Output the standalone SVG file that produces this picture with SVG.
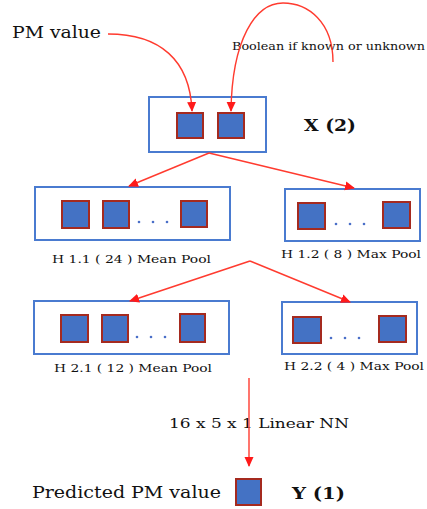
<svg xmlns="http://www.w3.org/2000/svg" width="427" height="509" viewBox="0 0 427 509">
<defs>
<marker id="ah" markerWidth="10" markerHeight="10" refX="9" refY="5" orient="auto" markerUnits="userSpaceOnUse">
<path d="M0,0.5 L10,5 L0,9.5 Z" fill="#ff1a1a"/>
</marker>
</defs>
<style>
.box{fill:#fff;stroke:#4a7bd0;stroke-width:2}
.sq{fill:#4472c4;stroke:#a52a1f;stroke-width:2}
.dot{fill:#4a6fc8}
.con{fill:none;stroke:#ff3b2f;stroke-width:1.4}
text{font-family:"DejaVu Serif","Liberation Serif",serif;fill:#111}
.lbl{font-size:11.5px}
.big{font-size:16px}
.bold{font-size:17px;font-weight:bold}
</style>
<rect width="427" height="509" fill="#fff"/>
<g id="pm-label"><text x="12" y="38" class="big" textLength="89" lengthAdjust="spacingAndGlyphs">PM value</text></g>
<g id="bool-label"><text x="232" y="50" class="lbl" font-size="11" textLength="193" lengthAdjust="spacingAndGlyphs">Boolean if known or unknown</text></g>
<g id="x-node">
<rect class="box" x="149" y="97" width="117" height="55"/>
<rect class="sq" x="177" y="113" width="26" height="25"/>
<rect class="sq" x="218" y="113" width="26" height="25"/>
<text x="304" y="131" class="bold" textLength="52" lengthAdjust="spacingAndGlyphs">X (2)</text>
</g>
<g id="h11">
<rect class="box" x="35" y="187" width="195" height="53"/>
<rect class="sq" x="62" y="201" width="27" height="27"/>
<rect class="sq" x="103" y="201" width="26" height="27"/>
<circle class="dot" cx="139" cy="222" r="1.3"/><circle class="dot" cx="153" cy="222" r="1.3"/><circle class="dot" cx="167" cy="222" r="1.3"/>
<rect class="sq" x="181" y="201" width="26" height="26"/>
<text x="52" y="263" class="lbl" textLength="159" lengthAdjust="spacingAndGlyphs">H 1.1 ( 24 ) Mean Pool</text>
</g>
<g id="h12">
<rect class="box" x="285" y="189" width="135" height="52"/>
<rect class="sq" x="298" y="203" width="27" height="26"/>
<circle class="dot" cx="336" cy="224" r="1.3"/><circle class="dot" cx="350" cy="224" r="1.3"/><circle class="dot" cx="364" cy="224" r="1.3"/>
<rect class="sq" x="383" y="202" width="27" height="26"/>
<text x="281" y="258" class="lbl" textLength="140" lengthAdjust="spacingAndGlyphs">H 1.2 ( 8 ) Max Pool</text>
</g>
<g id="h21">
<rect class="box" x="34" y="301" width="195" height="53"/>
<rect class="sq" x="61" y="315" width="27" height="27"/>
<rect class="sq" x="102" y="315" width="26" height="27"/>
<circle class="dot" cx="137" cy="337" r="1.3"/><circle class="dot" cx="151" cy="337" r="1.3"/><circle class="dot" cx="165" cy="337" r="1.3"/>
<rect class="sq" x="180" y="314" width="25" height="28"/>
<text x="54" y="372" class="lbl" textLength="158" lengthAdjust="spacingAndGlyphs">H 2.1 ( 12 ) Mean Pool</text>
</g>
<g id="h22">
<rect class="box" x="282" y="302" width="135" height="52"/>
<rect class="sq" x="293" y="317" width="28" height="26"/>
<circle class="dot" cx="331" cy="338" r="1.3"/><circle class="dot" cx="345" cy="338" r="1.3"/><circle class="dot" cx="359" cy="338" r="1.3"/>
<rect class="sq" x="379" y="316" width="27" height="26"/>
<text x="284" y="370" class="lbl" textLength="140" lengthAdjust="spacingAndGlyphs">H 2.2 ( 4 ) Max Pool</text>
</g>
<g id="nn-label"><text x="169" y="428" font-size="13.5" textLength="180" lengthAdjust="spacingAndGlyphs">16 x 5 x 1 Linear NN</text></g>
<g id="y-node">
<rect class="sq" x="236" y="479" width="25" height="26"/>
<text x="32" y="498" class="big" textLength="189" lengthAdjust="spacingAndGlyphs">Predicted PM value</text>
<text x="292" y="499" class="bold" textLength="53" lengthAdjust="spacingAndGlyphs">Y (1)</text>
</g>
<g id="connectors">
<path class="con" d="M108,34 C160,34 190,60 192,111" marker-end="url(#ah)"/>
<path class="con" d="M333,62 C333,22 308,3 283,3 C255,3 232,40 231,111" marker-end="url(#ah)"/>
<path class="con" d="M209,153 L129,186" marker-end="url(#ah)"/>
<path class="con" d="M209,153 L354,188" marker-end="url(#ah)"/>
<path class="con" d="M250,261 L130,301" marker-end="url(#ah)"/>
<path class="con" d="M250,261 L350,302" marker-end="url(#ah)"/>
<path class="con" d="M249,378 L249,466" marker-end="url(#ah)"/>
</g>
</svg>
